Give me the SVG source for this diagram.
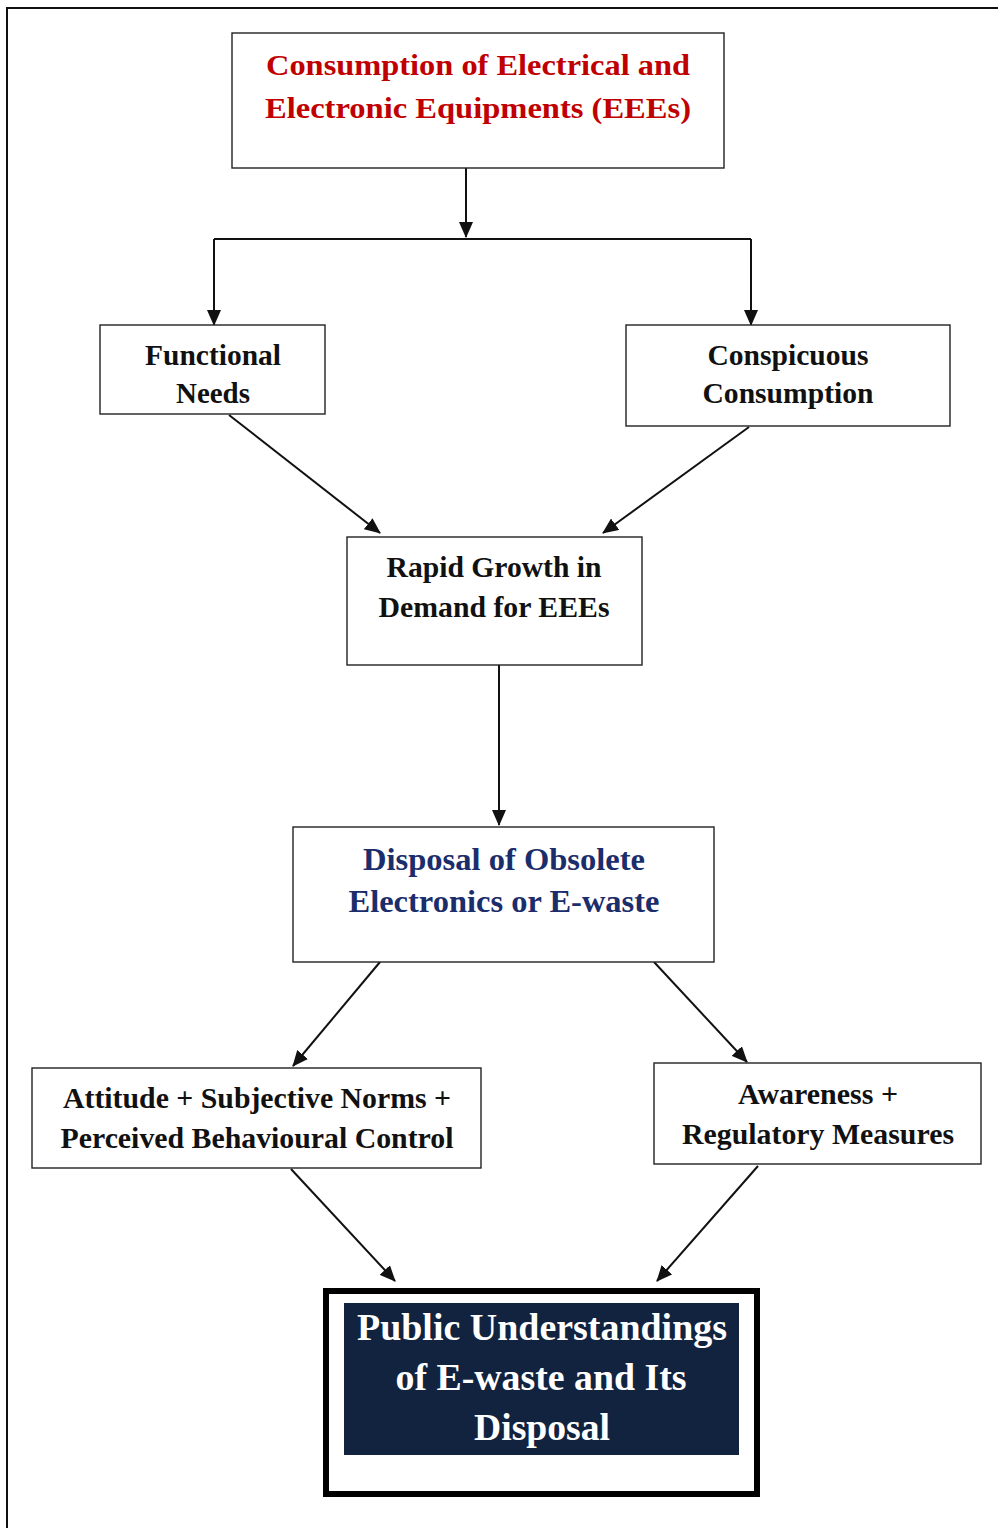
<svg xmlns="http://www.w3.org/2000/svg" width="998" height="1528" viewBox="0 0 998 1528">
  <style>
    .box { fill: #ffffff; stroke: #222222; stroke-width: 1.4; }
    .lbl { font-family: "Liberation Serif", "Times New Roman", serif; font-weight: bold; text-anchor: middle; }
    .dark { fill: #111111; font-size: 29px; }
    .red { fill: #c00000; font-size: 30px; }
    .navy { fill: #1b2d6b; font-size: 31px; }
    .white { fill: #ffffff; font-size: 37px; }
    .conn { stroke: #111111; stroke-width: 2; fill: none; marker-end: url(#arrow); }
    .plain { stroke: #111111; stroke-width: 2; fill: none; }
  </style>
  <defs>
    <marker id="arrow" viewBox="0 0 16 14" refX="15" refY="7" markerWidth="16" markerHeight="14" markerUnits="userSpaceOnUse" orient="auto">
      <path d="M0,0 L16,7 L0,14 z" fill="#111111"/>
    </marker>
  </defs>

  <rect width="998" height="1528" fill="#ffffff"/>
  <!-- page frame: left and top edges only -->
  <path d="M7,1528 V8 H998" fill="none" stroke="#111111" stroke-width="2"/>

  <g id="connectors">
    <line class="conn" x1="466" y1="168" x2="466" y2="237"/>
    <path class="plain" d="M214,239 H751"/>
    <line class="conn" x1="214" y1="239" x2="214" y2="325"/>
    <line class="conn" x1="751" y1="239" x2="751" y2="325"/>
    <line class="conn" x1="229" y1="415" x2="380" y2="533"/>
    <line class="conn" x1="749" y1="427" x2="603" y2="533"/>
    <line class="conn" x1="499" y1="665" x2="499" y2="825"/>
    <line class="conn" x1="380" y1="962" x2="293" y2="1066"/>
    <line class="conn" x1="654" y1="962" x2="747" y2="1062"/>
    <line class="conn" x1="291" y1="1169" x2="395" y2="1281"/>
    <line class="conn" x1="758" y1="1166" x2="657" y2="1281"/>
  </g>

  <g id="node-consumption">
    <rect class="box" x="232" y="33" width="492" height="135"/>
    <text class="lbl red" x="478" y="75" textLength="424" lengthAdjust="spacingAndGlyphs">Consumption of Electrical and</text>
    <text class="lbl red" x="478" y="118" textLength="426" lengthAdjust="spacingAndGlyphs">Electronic Equipments (EEEs)</text>
  </g>

  <g id="node-functional">
    <rect class="box" x="100" y="325" width="225" height="89"/>
    <text class="lbl dark" x="213" y="365" textLength="136" lengthAdjust="spacingAndGlyphs">Functional</text>
    <text class="lbl dark" x="213" y="403" textLength="74" lengthAdjust="spacingAndGlyphs">Needs</text>
  </g>

  <g id="node-conspicuous">
    <rect class="box" x="626" y="325" width="324" height="101"/>
    <text class="lbl dark" x="788" y="365" textLength="161" lengthAdjust="spacingAndGlyphs">Conspicuous</text>
    <text class="lbl dark" x="788" y="403" textLength="171" lengthAdjust="spacingAndGlyphs">Consumption</text>
  </g>

  <g id="node-demand">
    <rect class="box" x="347" y="537" width="295" height="128"/>
    <text class="lbl dark" x="494" y="577" textLength="215" lengthAdjust="spacingAndGlyphs">Rapid Growth in</text>
    <text class="lbl dark" x="494" y="617" textLength="231" lengthAdjust="spacingAndGlyphs">Demand for EEEs</text>
  </g>

  <g id="node-disposal">
    <rect class="box" x="293" y="827" width="421" height="135"/>
    <text class="lbl navy" x="504" y="870" textLength="282" lengthAdjust="spacingAndGlyphs">Disposal of Obsolete</text>
    <text class="lbl navy" x="504" y="912" textLength="311" lengthAdjust="spacingAndGlyphs">Electronics or E-waste</text>
  </g>

  <g id="node-attitude">
    <rect class="box" x="32" y="1068" width="449" height="100"/>
    <text class="lbl dark" x="257" y="1108" textLength="388" lengthAdjust="spacingAndGlyphs">Attitude + Subjective Norms +</text>
    <text class="lbl dark" x="257" y="1148" textLength="393" lengthAdjust="spacingAndGlyphs">Perceived Behavioural Control</text>
  </g>

  <g id="node-awareness">
    <rect class="box" x="654" y="1063" width="327" height="101"/>
    <text class="lbl dark" x="818" y="1104" textLength="160" lengthAdjust="spacingAndGlyphs">Awareness +</text>
    <text class="lbl dark" x="818" y="1144" textLength="272" lengthAdjust="spacingAndGlyphs">Regulatory Measures</text>
  </g>

  <g id="node-public">
    <rect x="326" y="1291" width="431" height="203" fill="#ffffff" stroke="#000000" stroke-width="6"/>
    <rect x="344" y="1303" width="395" height="152" fill="#12233f"/>
    <text class="lbl white" x="542" y="1340" textLength="370" lengthAdjust="spacingAndGlyphs">Public Understandings</text>
    <text class="lbl white" x="541" y="1390" textLength="291" lengthAdjust="spacingAndGlyphs">of E-waste and Its</text>
    <text class="lbl white" x="542" y="1440" textLength="136" lengthAdjust="spacingAndGlyphs">Disposal</text>
  </g>
</svg>
